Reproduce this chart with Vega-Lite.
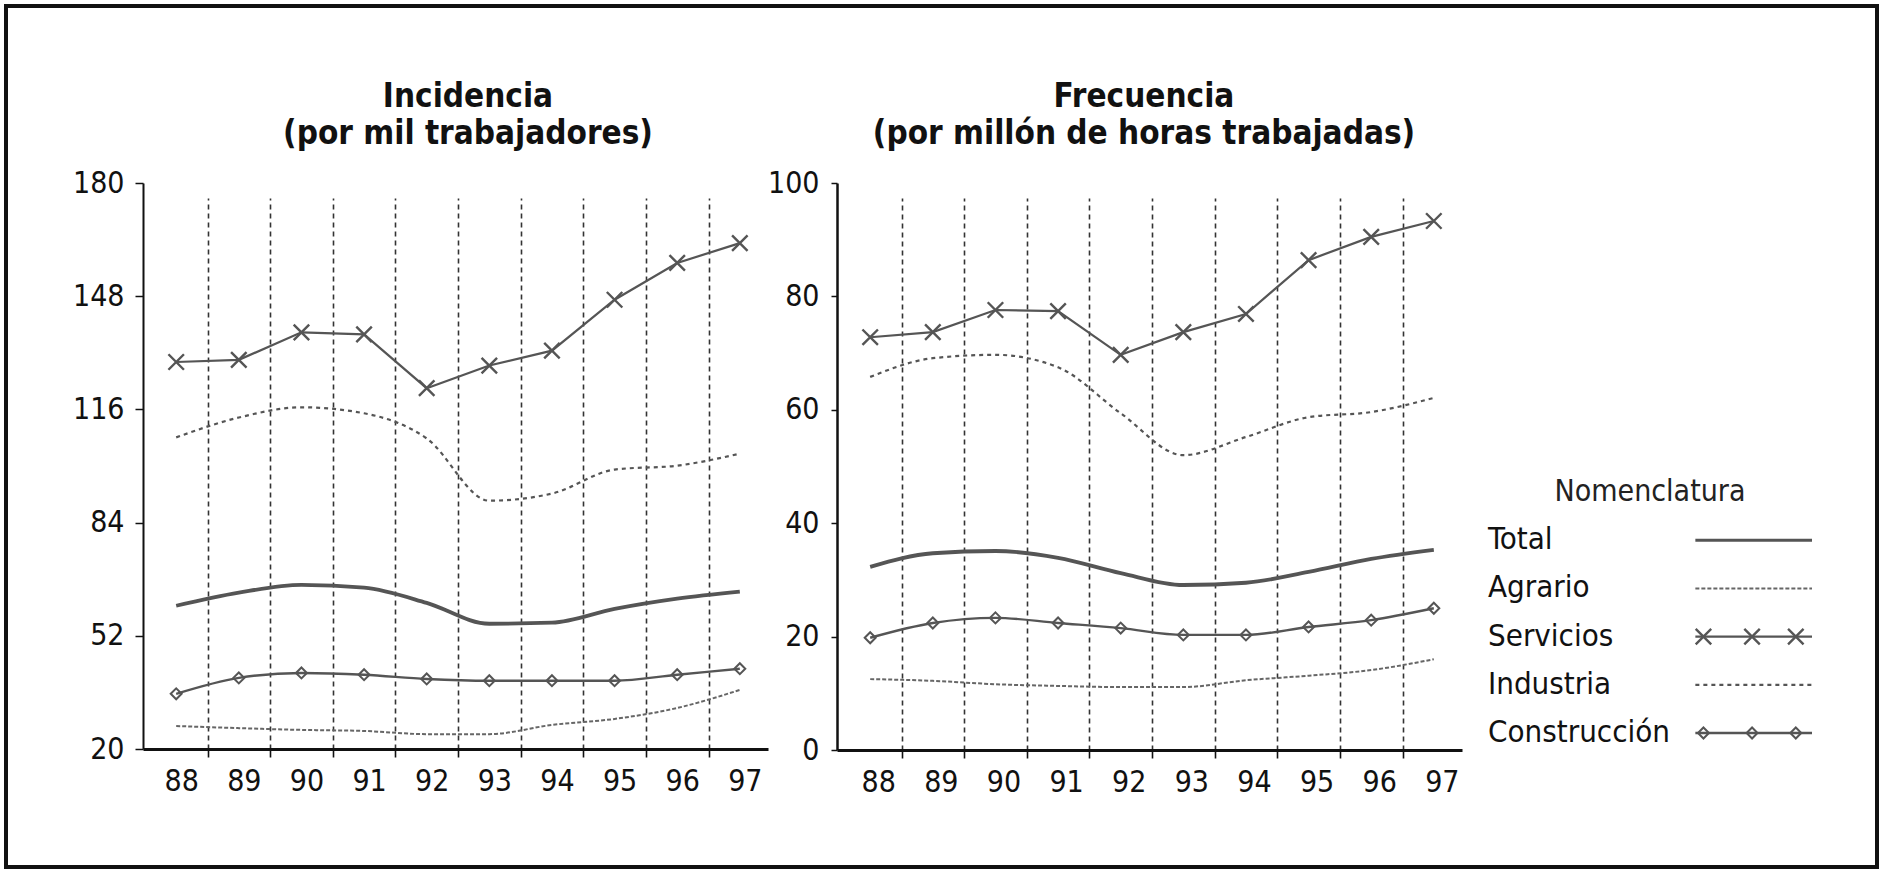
{
  "$schema": "https://vega.github.io/schema/vega-lite/v6.json",
  "width": 1871,
  "height": 861,
  "autosize": {"type": "none"},
  "padding": {"left": 6, "top": 6, "right": 6, "bottom": 22},
  "background": "white",
  "config": {
    "font": "DejaVu Sans Condensed",
    "view": {"stroke": "#111", "strokeWidth": 4},
    "axis": {"labelFont": "DejaVu Sans Condensed", "labelColor": "#111", "domainColor": "#111", "tickColor": "#111"}
  },
  "datasets": {
    "incidencia": [
      {"anio": 88, "serie": "Total", "valor": 60.5},
      {"anio": 89, "serie": "Total", "valor": 64.2},
      {"anio": 90, "serie": "Total", "valor": 66.4},
      {"anio": 91, "serie": "Total", "valor": 65.6},
      {"anio": 92, "serie": "Total", "valor": 61.3},
      {"anio": 93, "serie": "Total", "valor": 55.4},
      {"anio": 94, "serie": "Total", "valor": 55.7},
      {"anio": 95, "serie": "Total", "valor": 59.6},
      {"anio": 96, "serie": "Total", "valor": 62.5},
      {"anio": 97, "serie": "Total", "valor": 64.5},
      {"anio": 88, "serie": "Agrario", "valor": 26.5},
      {"anio": 89, "serie": "Agrario", "valor": 25.9},
      {"anio": 90, "serie": "Agrario", "valor": 25.4},
      {"anio": 91, "serie": "Agrario", "valor": 25.1},
      {"anio": 92, "serie": "Agrario", "valor": 24.2},
      {"anio": 93, "serie": "Agrario", "valor": 24.2},
      {"anio": 94, "serie": "Agrario", "valor": 26.8},
      {"anio": 95, "serie": "Agrario", "valor": 28.5},
      {"anio": 96, "serie": "Agrario", "valor": 31.6},
      {"anio": 97, "serie": "Agrario", "valor": 36.7},
      {"anio": 88, "serie": "Servicios", "valor": 129.4},
      {"anio": 89, "serie": "Servicios", "valor": 130.0},
      {"anio": 90, "serie": "Servicios", "valor": 137.8},
      {"anio": 91, "serie": "Servicios", "valor": 137.2},
      {"anio": 92, "serie": "Servicios", "valor": 122.0},
      {"anio": 93, "serie": "Servicios", "valor": 128.4},
      {"anio": 94, "serie": "Servicios", "valor": 132.6},
      {"anio": 95, "serie": "Servicios", "valor": 147.0},
      {"anio": 96, "serie": "Servicios", "valor": 157.4},
      {"anio": 97, "serie": "Servicios", "valor": 163.0},
      {"anio": 88, "serie": "Industria", "valor": 108.1},
      {"anio": 89, "serie": "Industria", "valor": 113.7},
      {"anio": 90, "serie": "Industria", "valor": 116.6},
      {"anio": 91, "serie": "Industria", "valor": 114.9},
      {"anio": 92, "serie": "Industria", "valor": 107.8},
      {"anio": 93, "serie": "Industria", "valor": 90.2},
      {"anio": 94, "serie": "Industria", "valor": 92.2},
      {"anio": 95, "serie": "Industria", "valor": 99.0},
      {"anio": 96, "serie": "Industria", "valor": 100.1},
      {"anio": 97, "serie": "Industria", "valor": 103.5},
      {"anio": 88, "serie": "Construcción", "valor": 35.6},
      {"anio": 89, "serie": "Construcción", "valor": 40.1},
      {"anio": 90, "serie": "Construcción", "valor": 41.5},
      {"anio": 91, "serie": "Construcción", "valor": 41.0},
      {"anio": 92, "serie": "Construcción", "valor": 39.8},
      {"anio": 93, "serie": "Construcción", "valor": 39.3},
      {"anio": 94, "serie": "Construcción", "valor": 39.3},
      {"anio": 95, "serie": "Construcción", "valor": 39.3},
      {"anio": 96, "serie": "Construcción", "valor": 41.0},
      {"anio": 97, "serie": "Construcción", "valor": 42.7}
    ],
    "frecuencia": [
      {"anio": 88, "serie": "Total", "valor": 32.3},
      {"anio": 89, "serie": "Total", "valor": 34.7},
      {"anio": 90, "serie": "Total", "valor": 35.1},
      {"anio": 91, "serie": "Total", "valor": 33.9},
      {"anio": 92, "serie": "Total", "valor": 31.2},
      {"anio": 93, "serie": "Total", "valor": 29.1},
      {"anio": 94, "serie": "Total", "valor": 29.5},
      {"anio": 95, "serie": "Total", "valor": 31.4},
      {"anio": 96, "serie": "Total", "valor": 33.7},
      {"anio": 97, "serie": "Total", "valor": 35.3},
      {"anio": 88, "serie": "Agrario", "valor": 12.5},
      {"anio": 89, "serie": "Agrario", "valor": 12.2},
      {"anio": 90, "serie": "Agrario", "valor": 11.6},
      {"anio": 91, "serie": "Agrario", "valor": 11.3},
      {"anio": 92, "serie": "Agrario", "valor": 11.1},
      {"anio": 93, "serie": "Agrario", "valor": 11.1},
      {"anio": 94, "serie": "Agrario", "valor": 12.3},
      {"anio": 95, "serie": "Agrario", "valor": 13.1},
      {"anio": 96, "serie": "Agrario", "valor": 14.1},
      {"anio": 97, "serie": "Agrario", "valor": 16.0},
      {"anio": 88, "serie": "Servicios", "valor": 72.8},
      {"anio": 89, "serie": "Servicios", "valor": 73.7},
      {"anio": 90, "serie": "Servicios", "valor": 77.6},
      {"anio": 91, "serie": "Servicios", "valor": 77.4},
      {"anio": 92, "serie": "Servicios", "valor": 69.7},
      {"anio": 93, "serie": "Servicios", "valor": 73.7},
      {"anio": 94, "serie": "Servicios", "valor": 76.9},
      {"anio": 95, "serie": "Servicios", "valor": 86.4},
      {"anio": 96, "serie": "Servicios", "valor": 90.5},
      {"anio": 97, "serie": "Servicios", "valor": 93.3},
      {"anio": 88, "serie": "Industria", "valor": 65.8},
      {"anio": 89, "serie": "Industria", "valor": 69.1},
      {"anio": 90, "serie": "Industria", "valor": 69.7},
      {"anio": 91, "serie": "Industria", "valor": 67.5},
      {"anio": 92, "serie": "Industria", "valor": 59.4},
      {"anio": 93, "serie": "Industria", "valor": 52.0},
      {"anio": 94, "serie": "Industria", "valor": 55.2},
      {"anio": 95, "serie": "Industria", "valor": 58.7},
      {"anio": 96, "serie": "Industria", "valor": 59.6},
      {"anio": 97, "serie": "Industria", "valor": 62.1},
      {"anio": 88, "serie": "Construcción", "valor": 19.8},
      {"anio": 89, "serie": "Construcción", "valor": 22.4},
      {"anio": 90, "serie": "Construcción", "valor": 23.3},
      {"anio": 91, "serie": "Construcción", "valor": 22.4},
      {"anio": 92, "serie": "Construcción", "valor": 21.5},
      {"anio": 93, "serie": "Construcción", "valor": 20.3},
      {"anio": 94, "serie": "Construcción", "valor": 20.3},
      {"anio": 95, "serie": "Construcción", "valor": 21.7},
      {"anio": 96, "serie": "Construcción", "valor": 22.9},
      {"anio": 97, "serie": "Construcción", "valor": 25.0}
    ],
    "leyenda": [
      {"serie": "Total"},
      {"serie": "Agrario"},
      {"serie": "Servicios"},
      {"serie": "Industria"},
      {"serie": "Construcción"}
    ],
    "titulos": [
      {"grafico": "Incidencia", "renglon": "titulo", "texto": "Incidencia"},
      {"grafico": "Incidencia", "renglon": "subtitulo", "texto": "(por mil trabajadores)"},
      {"grafico": "Frecuencia", "renglon": "titulo", "texto": "Frecuencia"},
      {"grafico": "Frecuencia", "renglon": "subtitulo", "texto": "(por millón de horas trabajadas)"}
    ],
    "uno": [{}]
  },
  "resolve": {
    "scale": {"x": "independent", "y": "independent"},
    "axis": {"x": "independent", "y": "independent"}
  },
  "layer": [
    {
      "data": {"name": "incidencia"},
      "mark": {"type": "point", "opacity": 0},
      "encoding": {
        "x": {
          "field": "anio", "type": "quantitative",
          "scale": {"domain": [87.47, 97.45], "range": [137, 762], "nice": false, "zero": false},
          "axis": {
            "orient": "bottom", "offset": -118, "title": null,
            "values": [88.5, 89.5, 90.5, 91.5, 92.5, 93.5, 94.5, 95.5, 96.5],
            "labels": false, "domain": false,
            "grid": true, "gridDash": [5, 4], "gridWidth": 1.6, "gridColor": "#333",
            "ticks": true, "tickSize": 8, "tickWidth": 1.6, "tickColor": "#111"
          }
        },
        "y": {
          "field": "valor", "type": "quantitative",
          "scale": {"domain": [20, 180], "range": [118, 669], "nice": false, "zero": false},
          "axis": null
        }
      }
    },
    {
      "data": {"name": "incidencia"},
      "encoding": {
        "x": {
          "field": "anio", "type": "quantitative",
          "scale": {"domain": [87.47, 97.45], "range": [137, 762], "nice": false, "zero": false},
          "axis": {
            "orient": "bottom", "offset": -118, "title": null,
            "values": [88, 89, 90, 91, 92, 93, 94, 95, 96, 97],
            "format": "d", "ticks": false, "grid": false,
            "labelOverlap": false, "labelFlush": false, "labelBound": false,
            "labelFontSize": 30, "labelOffset": 5, "labelPadding": 17,
            "domainWidth": 3
          }
        },
        "y": {
          "field": "valor", "type": "quantitative",
          "scale": {"domain": [20, 180], "range": [743, 177], "nice": false, "zero": false},
          "axis": {
            "orient": "left", "offset": -137, "title": null,
            "values": [20, 52, 84, 116, 148, 180],
            "grid": false, "tickSize": 8, "tickWidth": 1.5,
            "labelFontSize": 30, "labelPadding": 11, "domainWidth": 2
          }
        }
      },
      "layer": [
        {"transform": [{"filter": "datum.serie === 'Total'"}], "mark": {"type": "line", "interpolate": "monotone", "strokeWidth": 3.8, "color": "#555"}},
        {"transform": [{"filter": "datum.serie === 'Agrario'"}], "mark": {"type": "line", "interpolate": "monotone", "strokeWidth": 2, "strokeDash": [4, 2], "color": "#666"}},
        {"transform": [{"filter": "datum.serie === 'Servicios'"}], "mark": {"type": "line", "interpolate": "linear", "strokeWidth": 2.2, "color": "#555"}},
        {"transform": [{"filter": "datum.serie === 'Industria'"}], "mark": {"type": "line", "interpolate": "monotone", "strokeWidth": 2.2, "strokeDash": [4, 4], "color": "#555"}},
        {"transform": [{"filter": "datum.serie === 'Construcción'"}], "mark": {"type": "line", "interpolate": "monotone", "strokeWidth": 2.4, "color": "#555"}},
        {"transform": [{"filter": "datum.serie === 'Servicios'"}], "mark": {"type": "point", "shape": "M-1,-1L1,1M-1,1L1,-1", "size": 240, "filled": false, "strokeWidth": 2.4, "color": "#555", "opacity": 1}},
        {"transform": [{"filter": "datum.serie === 'Construcción'"}], "mark": {"type": "point", "shape": "diamond", "size": 120, "filled": false, "strokeWidth": 2, "color": "#555", "opacity": 1}}
      ]
    },
    {
      "data": {"name": "frecuencia"},
      "mark": {"type": "point", "opacity": 0},
      "encoding": {
        "x": {
          "field": "anio", "type": "quantitative",
          "scale": {"domain": [87.47, 97.45], "range": [831, 1456], "nice": false, "zero": false},
          "axis": {
            "orient": "bottom", "offset": -117, "title": null,
            "values": [88.5, 89.5, 90.5, 91.5, 92.5, 93.5, 94.5, 95.5, 96.5],
            "labels": false, "domain": false,
            "grid": true, "gridDash": [5, 4], "gridWidth": 1.6, "gridColor": "#333",
            "ticks": true, "tickSize": 8, "tickWidth": 1.6, "tickColor": "#111"
          }
        },
        "y": {
          "field": "valor", "type": "quantitative",
          "scale": {"domain": [0, 100], "range": [117, 669], "nice": false, "zero": false},
          "axis": null
        }
      }
    },
    {
      "data": {"name": "frecuencia"},
      "encoding": {
        "x": {
          "field": "anio", "type": "quantitative",
          "scale": {"domain": [87.47, 97.45], "range": [831, 1456], "nice": false, "zero": false},
          "axis": {
            "orient": "bottom", "offset": -117, "title": null,
            "values": [88, 89, 90, 91, 92, 93, 94, 95, 96, 97],
            "format": "d", "ticks": false, "grid": false,
            "labelOverlap": false, "labelFlush": false, "labelBound": false,
            "labelFontSize": 30, "labelOffset": 8, "labelPadding": 17,
            "domainWidth": 3
          }
        },
        "y": {
          "field": "valor", "type": "quantitative",
          "scale": {"domain": [0, 100], "range": [744, 177], "nice": false, "zero": false},
          "axis": {
            "orient": "left", "offset": -831, "title": null,
            "values": [0, 20, 40, 60, 80, 100],
            "grid": false, "tickSize": 6, "tickWidth": 1.5,
            "labelFontSize": 30, "labelPadding": 12, "domainWidth": 2.5
          }
        }
      },
      "layer": [
        {"transform": [{"filter": "datum.serie === 'Total'"}], "mark": {"type": "line", "interpolate": "monotone", "strokeWidth": 3.8, "color": "#555"}},
        {"transform": [{"filter": "datum.serie === 'Agrario'"}], "mark": {"type": "line", "interpolate": "monotone", "strokeWidth": 2, "strokeDash": [4, 2], "color": "#666"}},
        {"transform": [{"filter": "datum.serie === 'Servicios'"}], "mark": {"type": "line", "interpolate": "linear", "strokeWidth": 2.2, "color": "#555"}},
        {"transform": [{"filter": "datum.serie === 'Industria'"}], "mark": {"type": "line", "interpolate": "monotone", "strokeWidth": 2.2, "strokeDash": [4, 4], "color": "#555"}},
        {"transform": [{"filter": "datum.serie === 'Construcción'"}], "mark": {"type": "line", "interpolate": "monotone", "strokeWidth": 2.4, "color": "#555"}},
        {"transform": [{"filter": "datum.serie === 'Servicios'"}], "mark": {"type": "point", "shape": "M-1,-1L1,1M-1,1L1,-1", "size": 240, "filled": false, "strokeWidth": 2.4, "color": "#555", "opacity": 1}},
        {"transform": [{"filter": "datum.serie === 'Construcción'"}], "mark": {"type": "point", "shape": "diamond", "size": 120, "filled": false, "strokeWidth": 2, "color": "#555", "opacity": 1}}
      ]
    },
    {
      "data": {"name": "titulos"},
      "mark": {"type": "text", "fontSize": 33, "fontWeight": "bold", "align": "center", "baseline": "alphabetic", "color": "#111"},
      "encoding": {
        "x": {"field": "grafico", "type": "nominal", "scale": {"type": "point", "domain": ["Incidencia", "Frecuencia"], "range": [462, 1138], "padding": 0}, "axis": null},
        "y": {"field": "renglon", "type": "nominal", "scale": {"type": "point", "domain": ["titulo", "subtitulo"], "range": [101, 138], "padding": 0}, "axis": null},
        "text": {"field": "texto"}
      }
    },
    {
      "data": {"name": "leyenda"},
      "encoding": {
        "y": {
          "field": "serie", "type": "nominal",
          "scale": {"type": "point", "domain": ["Nomenclatura", "Total", "Agrario", "Servicios", "Industria", "Construcción"], "range": [486, 727], "padding": 0},
          "axis": null
        },
        "x": {"datum": 0, "type": "quantitative", "scale": {"domain": [0, 1], "range": [1482, 1806], "nice": false, "zero": false}, "axis": null}
      },
      "layer": [
        {"mark": {"type": "text", "align": "left", "baseline": "middle", "fontSize": 31, "color": "#111"}, "encoding": {"text": {"field": "serie"}}},
        {
          "data": {"name": "uno"},
          "mark": {"type": "text", "text": "Nomenclatura", "align": "center", "baseline": "middle", "fontSize": 30, "color": "#222"},
          "encoding": {"x": {"datum": 0.5, "type": "quantitative"}, "y": {"datum": "Nomenclatura", "type": "nominal"}}
        },
        {"transform": [{"filter": "datum.serie === 'Total'"}], "mark": {"type": "rule", "strokeWidth": 3, "color": "#555"}, "encoding": {"x": {"datum": 0.64, "type": "quantitative"}, "x2": {"datum": 1}}},
        {"transform": [{"filter": "datum.serie === 'Agrario'"}], "mark": {"type": "rule", "strokeWidth": 2, "strokeDash": [4, 2], "color": "#666"}, "encoding": {"x": {"datum": 0.64, "type": "quantitative"}, "x2": {"datum": 1}}},
        {"transform": [{"filter": "datum.serie === 'Servicios'"}], "mark": {"type": "rule", "strokeWidth": 2.2, "color": "#555"}, "encoding": {"x": {"datum": 0.64, "type": "quantitative"}, "x2": {"datum": 1}}},
        {"transform": [{"filter": "datum.serie === 'Industria'"}], "mark": {"type": "rule", "strokeWidth": 2.2, "strokeDash": [4, 4], "color": "#555"}, "encoding": {"x": {"datum": 0.64, "type": "quantitative"}, "x2": {"datum": 1}}},
        {"transform": [{"filter": "datum.serie === 'Construcción'"}], "mark": {"type": "rule", "strokeWidth": 2.4, "color": "#555"}, "encoding": {"x": {"datum": 0.64, "type": "quantitative"}, "x2": {"datum": 1}}},
        {"transform": [{"filter": "datum.serie === 'Servicios'"}], "mark": {"type": "point", "shape": "M-1,-1L1,1M-1,1L1,-1", "size": 240, "filled": false, "strokeWidth": 2.4, "color": "#555", "opacity": 1}, "encoding": {"x": {"datum": 0.665, "type": "quantitative"}}},
        {"transform": [{"filter": "datum.serie === 'Servicios'"}], "mark": {"type": "point", "shape": "M-1,-1L1,1M-1,1L1,-1", "size": 240, "filled": false, "strokeWidth": 2.4, "color": "#555", "opacity": 1}, "encoding": {"x": {"datum": 0.815, "type": "quantitative"}}},
        {"transform": [{"filter": "datum.serie === 'Servicios'"}], "mark": {"type": "point", "shape": "M-1,-1L1,1M-1,1L1,-1", "size": 240, "filled": false, "strokeWidth": 2.4, "color": "#555", "opacity": 1}, "encoding": {"x": {"datum": 0.95, "type": "quantitative"}}},
        {"transform": [{"filter": "datum.serie === 'Construcción'"}], "mark": {"type": "point", "shape": "diamond", "size": 120, "filled": false, "strokeWidth": 2, "color": "#555", "opacity": 1}, "encoding": {"x": {"datum": 0.665, "type": "quantitative"}}},
        {"transform": [{"filter": "datum.serie === 'Construcción'"}], "mark": {"type": "point", "shape": "diamond", "size": 120, "filled": false, "strokeWidth": 2, "color": "#555", "opacity": 1}, "encoding": {"x": {"datum": 0.815, "type": "quantitative"}}},
        {"transform": [{"filter": "datum.serie === 'Construcción'"}], "mark": {"type": "point", "shape": "diamond", "size": 120, "filled": false, "strokeWidth": 2, "color": "#555", "opacity": 1}, "encoding": {"x": {"datum": 0.95, "type": "quantitative"}}}
      ]
    }
  ]
}
